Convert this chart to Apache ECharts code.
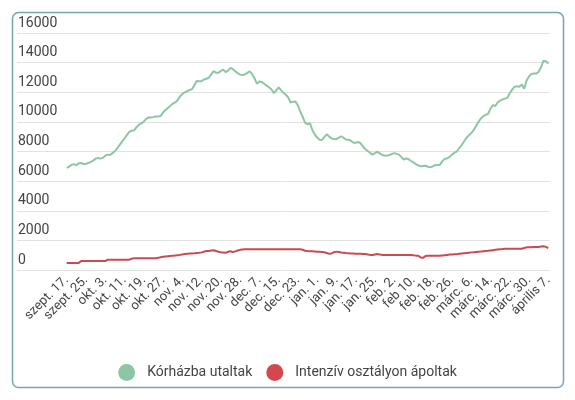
<!DOCTYPE html>
<html>
<head>
<meta charset="utf-8">
<script src="https://cdn.jsdelivr.net/npm/echarts@6/dist/echarts.min.js"></script>
<style>
html,body{margin:0;padding:0;background:#fff;}
#c{width:575px;height:400px;}
</style>
</head>
<body>
<div id="c"></div>
<script>
const categories = [
"szept. 17.","szept. 18.","szept. 19.","szept. 20.","szept. 21.","szept. 22.","szept. 23.","szept. 24.","szept. 25.","szept. 26.","szept. 27.","szept. 28.","szept. 29.","szept. 30.",
"okt. 1.","okt. 2.","okt. 3.","okt. 4.","okt. 5.","okt. 6.","okt. 7.","okt. 8.","okt. 9.","okt. 10.","okt. 11.","okt. 12.","okt. 13.","okt. 14.","okt. 15.","okt. 16.","okt. 17.","okt. 18.","okt. 19.","okt. 20.","okt. 21.","okt. 22.","okt. 23.","okt. 24.","okt. 25.","okt. 26.","okt. 27.","okt. 28.","okt. 29.","okt. 30.","okt. 31.",
"nov. 1.","nov. 2.","nov. 3.","nov. 4.","nov. 5.","nov. 6.","nov. 7.","nov. 8.","nov. 9.","nov. 10.","nov. 11.","nov. 12.","nov. 13.","nov. 14.","nov. 15.","nov. 16.","nov. 17.","nov. 18.","nov. 19.","nov. 20.","nov. 21.","nov. 22.","nov. 23.","nov. 24.","nov. 25.","nov. 26.","nov. 27.","nov. 28.","nov. 29.","nov. 30.",
"dec. 1.","dec. 2.","dec. 3.","dec. 4.","dec. 5.","dec. 7.","dec. 8.","dec. 9.","dec. 10.","dec. 11.","dec. 12.","dec. 13.","dec. 14.","dec. 15.","dec. 16.","dec. 17.","dec. 18.","dec. 19.","dec. 20.","dec. 21.","dec. 22.","dec. 23.","dec. 25.","dec. 26.","dec. 27.","dec. 28.","dec. 29.","dec. 30.","dec. 31.",
"jan. 1.","jan. 2.","jan. 3.","jan. 4.","jan. 5.","jan. 6.","jan. 7.","jan. 8.","jan. 9.","jan. 10.","jan. 11.","jan. 12.","jan. 13.","jan. 14.","jan. 15.","jan. 16.","jan. 17.","jan. 18.","jan. 19.","jan. 20.","jan. 21.","jan. 22.","jan. 23.","jan. 24.","jan. 25.","jan. 26.","jan. 27.","jan. 28.","jan. 29.","jan. 30.","jan. 31.",
"feb. 1.","feb. 2.","feb. 3.","feb. 4.","feb. 5.","feb. 6.","feb. 7.","feb. 8.","feb. 9.","feb 10.","feb. 11.","feb. 12.","feb. 13.","feb. 14.","feb. 15.","feb. 16.","feb. 17.","feb. 18.","feb. 19.","feb. 20.","feb. 21.","feb. 22.","feb. 23.","feb. 24.","feb. 25.","feb. 26.","feb. 27.","feb. 28.",
"márc. 1.","márc. 2.","márc. 3.","márc. 4.","márc. 5.","márc. 6.","márc. 7.","márc. 8.","márc. 9.","márc. 10.","márc. 11.","márc. 12.","márc. 13.","márc. 14.","márc. 15.","márc. 16.","márc. 17.","márc. 18.","márc. 19.","márc. 20.","márc. 21.","márc. 22.","márc. 23.","márc. 24.","márc. 25.","márc. 26.","márc. 27.","márc. 28.","márc. 29.","márc. 30.","márc. 31.",
"április 1.","április 2.","április 3.","április 4.","április 5.","április 6.","április 7."
];

const seriesNames = ["Kórházba utaltak", "Intenzív osztályon ápoltak"];

const korhazba = [
6900,6980,7100,7150,7070,7200,7230,7140,7170,7220,
7290,7390,7520,7560,7520,7570,7720,7790,7760,7890,
8020,8220,8450,8670,8880,9110,9320,9400,9430,9640,
9810,9900,10020,10200,10290,10290,10320,10370,10360,10390,
10630,10800,10930,11080,11230,11310,11450,11700,11880,11990,
12080,12150,12200,12480,12760,12740,12750,12860,12910,12980,
13210,13420,13320,13310,13440,13530,13360,13460,13650,13560,
13420,13290,13190,13170,13200,13310,13410,13220,12940,12580,
12720,12700,12570,12450,12340,12200,11940,12120,12330,12140,
11960,11830,11650,11310,11360,11370,11120,10700,10340,9930,
9840,9920,9450,9160,8940,8800,8780,8970,9160,9020,
8880,8850,8830,8930,9030,8920,8810,8790,8730,8600,
8580,8640,8570,8340,8170,8040,7910,7790,7890,7990,
7870,7770,7730,7720,7760,7830,7890,7840,7790,7620,
7460,7540,7480,7360,7260,7150,7070,7000,7020,7040,
6970,6930,7000,7080,7090,7100,7350,7500,7540,7630,
7790,7920,8000,8220,8430,8680,8930,9090,9240,9450,
9720,10000,10230,10380,10470,10540,10900,11130,11070,11320,
11440,11520,11570,11620,11930,12180,12380,12400,12370,12520,
12240,12800,13080,13240,13260,13260,13380,13700,14130,14100,
13930
];

const intenziv = [
480,480,480,480,480,480,600,600,600,600,
600,600,600,600,600,600,600,700,700,700,
700,700,700,700,700,700,700,760,800,800,
800,800,800,800,800,800,800,800,820,860,
890,910,930,950,970,980,1000,1020,1050,1080,
1100,1110,1120,1130,1150,1160,1190,1230,1280,1290,
1310,1330,1280,1230,1200,1180,1160,1230,1270,1210,
1260,1320,1360,1390,1400,1400,1400,1400,1400,1400,
1400,1400,1400,1400,1400,1400,1400,1400,1400,1400,
1400,1400,1400,1400,1400,1400,1400,1400,1370,1300,
1280,1270,1260,1250,1240,1230,1220,1200,1150,1090,
1120,1200,1240,1210,1180,1160,1140,1130,1120,1110,
1100,1090,1090,1080,1080,1050,1020,1010,1050,1080,
1050,1020,1010,1010,1010,1010,1010,1010,1010,1010,
1010,1010,1010,1010,990,970,960,850,820,950,
960,960,960,960,960,960,980,1000,1020,1040,
1050,1060,1070,1090,1110,1130,1150,1170,1190,1200,
1220,1240,1250,1270,1290,1300,1320,1340,1360,1380,
1400,1410,1430,1430,1430,1430,1430,1430,1430,1430,
1480,1530,1540,1540,1550,1550,1560,1580,1600,1560,
1480
];

const yMin = 0, yMax = 16000, yStep = 2000;

const chart = echarts.init(document.getElementById('c'), null, {renderer: 'canvas'});
const font = 'Roboto, "Noto Sans", sans-serif';
chart.setOption({
  animation: false,
  backgroundColor: '#ffffff',
  textStyle: {fontFamily: font},
  graphic: [{
    type: 'rect',
    shape: {x: 12.5, y: 12.5, width: 551, height: 375, r: 6},
    style: {fill: 'none', stroke: '#76a3b6', lineWidth: 1.5},
    silent: true, z: -1
  }],
  grid: [
    {left: 17, right: 25, top: 33, bottom: 130},
    {left: 66.7, right: 26.7, top: 33, bottom: 130}
  ],
  xAxis: [
    {gridIndex: 0, type: 'value', min: 0, max: 1, show: false},
    {
      gridIndex: 1, type: 'category', data: categories, boundaryGap: false,
      axisLine: {show: false}, axisTick: {show: false},
      axisLabel: {interval: 7, rotate: 45, fontSize: 13, color: '#444', margin: 8, fontFamily: font}
    }
  ],
  yAxis: [
    {
      gridIndex: 0, type: 'value', min: yMin, max: yMax, interval: yStep,
      axisLine: {show: false}, axisTick: {show: false},
      splitLine: {lineStyle: {color: '#e2e2e2', width: 1}},
      axisLabel: {inside: true, margin: 1, align: 'left', verticalAlign: 'bottom', padding: [0,0,3,0], fontSize: 14, color: '#444', fontFamily: font,
        formatter: function (v) { return String(v); }}
    },
    {gridIndex: 1, type: 'value', min: yMin, max: yMax, interval: yStep, show: false, splitLine: {show: false}}
  ],
  legend: {
    data: seriesNames,
    top: 359, left: 'center',
    icon: 'circle', itemWidth: 17, itemHeight: 17, itemGap: 14,
    textStyle: {fontSize: 14, color: '#444', fontFamily: font, padding: [0,0,0,7]}
  },
  series: [
    {
      name: seriesNames[0], type: 'line', xAxisIndex: 1, yAxisIndex: 1,
      data: korhazba, showSymbol: false, symbol: 'none',
      lineStyle: {color: '#8dc6a4', width: 2}, itemStyle: {color: '#8dc6a4'}
    },
    {
      name: seriesNames[1], type: 'line', xAxisIndex: 1, yAxisIndex: 1,
      data: intenziv, showSymbol: false, symbol: 'none',
      lineStyle: {color: '#c94a52', width: 2}, itemStyle: {color: '#d4474f'}
    }
  ]
});
</script>
</body>
</html>
